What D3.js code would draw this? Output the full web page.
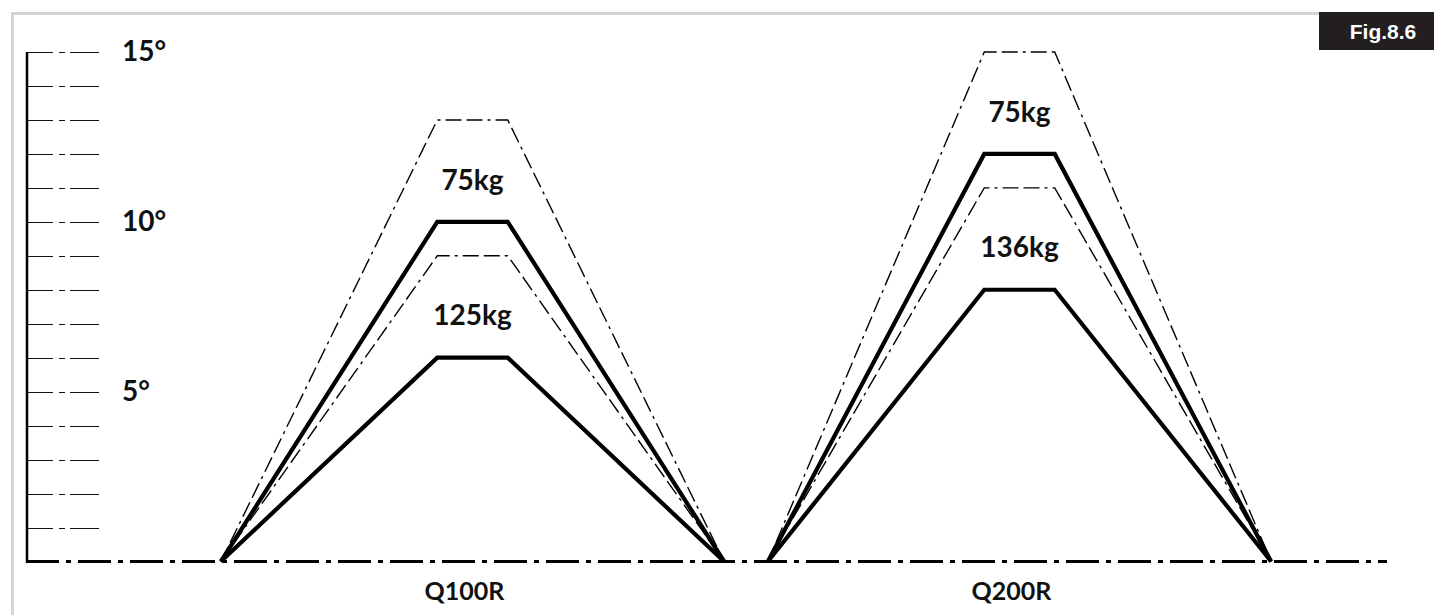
<!DOCTYPE html>
<html>
<head>
<meta charset="utf-8">
<script src="https://cdn.jsdelivr.net/npm/d3@7"></script>
<style>
  body { margin: 0; background: #fff; }
  svg { display: block; }
  .lbl { font-family: Lato, "Open Sans", sans-serif; font-weight: 700; fill: #111; }
</style>
</head>
<body>
<div class="tilt-chart"></div>
<script>
// data (degrees)
var categories = ["Q100R", "Q200R"];
var lightLoad = ["75kg", "75kg"];
var heavyLoad = ["125kg", "136kg"];
var lightMax = [13, 15];     // dashed, outer
var lightRated = [10, 12];   // thick
var heavyMax = [9, 11];      // dashed
var heavyRated = [6, 8];     // thick
var degreeLabels = [5, 10, 15];
var figLabel = "Fig.8.6";

var width = 1434, height = 615;

var svg = d3.select(".tilt-chart")
  .append("svg")
  .attr("width", width)
  .attr("height", height);

var y = d3.scaleLinear().domain([0, 15]).range([561.5, 52]);

var x = d3.scaleBand()
  .domain(categories)
  .range([199, 1293])
  .paddingInner(0.08)
  .paddingOuter(0.04);

var axisX = 27;

// grey frame (left + top)
svg.append("line")
  .attr("x1", 12.5).attr("x2", 12.5).attr("y1", 12).attr("y2", height)
  .attr("stroke", "#d4d4d4").attr("stroke-width", 3);
svg.append("line")
  .attr("x1", 11).attr("x2", 1319).attr("y1", 13.5).attr("y2", 13.5)
  .attr("stroke", "#d4d4d4").attr("stroke-width", 3);

// figure tag
svg.append("rect")
  .attr("x", 1319).attr("y", 12).attr("width", width - 1319).attr("height", 38)
  .attr("fill", "#231f20");
svg.append("text")
  .attr("x", 1383).attr("y", 39)
  .attr("text-anchor", "middle")
  .style("font-family", "'Liberation Sans', Arial, sans-serif")
  .style("font-weight", 700)
  .style("font-size", "21px")
  .attr("fill", "#fff")
  .text(figLabel);

// tick lines, one per degree
svg.append("g").selectAll("line")
  .data(y.ticks(15).filter(function(d) { return d > 0; }))
  .enter().append("line")
    .attr("x1", axisX).attr("x2", 99)
    .attr("y1", function(d) { return Math.round(y(d)) + 0.5; })
    .attr("y2", function(d) { return Math.round(y(d)) + 0.5; })
    .attr("stroke", "#111")
    .attr("stroke-width", 1.2)
    .attr("stroke-dasharray", "26,6,6,5,60");

svg.append("g").selectAll("text")
  .data(degreeLabels)
  .enter().append("text")
    .attr("class", "lbl")
    .attr("x", 122)
    .attr("y", function(d) { return y(d) - 1; })
    .attr("dy", "0.36em")
    .style("font-size", "28px")
    .text(function(d) { return d + "°"; });

// vertical axis
svg.append("line")
  .attr("x1", axisX).attr("x2", axisX)
  .attr("y1", y(15)).attr("y2", y(0) + 1)
  .attr("stroke", "#000").attr("stroke-width", 2.5);

// trapezoids
var line = d3.line();
function trap(i, v) {
  var x0 = x(categories[i]), bw = x.bandwidth();
  var c = x0 + bw / 2, half = bw * 0.07;
  return line([[x0, y(0)], [c - half, y(v)], [c + half, y(v)], [x0 + bw, y(0)]]);
}

var shapes = [];
categories.forEach(function(c, i) {
  shapes.push({ i: i, v: lightMax[i], thick: false });
  shapes.push({ i: i, v: lightRated[i], thick: true });
  shapes.push({ i: i, v: heavyMax[i], thick: false });
  shapes.push({ i: i, v: heavyRated[i], thick: true });
});

svg.append("g").selectAll("path")
  .data(shapes)
  .enter().append("path")
    .attr("d", function(d) { return trap(d.i, d.v); })
    .attr("fill", "none")
    .attr("stroke", "#000")
    .attr("stroke-linejoin", "miter")
    .attr("stroke-width", function(d) { return d.thick ? 4.2 : 1.4; })
    .attr("stroke-dasharray", function(d) { return d.thick ? null : "16,5,16,5,3,5"; });

// load labels
var loadLabels = [];
categories.forEach(function(c, i) {
  loadLabels.push({ i: i, v: lightRated[i], t: lightLoad[i] });
  loadLabels.push({ i: i, v: heavyRated[i], t: heavyLoad[i] });
});

svg.append("g").selectAll("text")
  .data(loadLabels)
  .enter().append("text")
    .attr("class", "lbl")
    .attr("x", function(d) { return x(categories[d.i]) + x.bandwidth() / 2; })
    .attr("y", function(d) { return y(d.v + 0.95); })
    .attr("text-anchor", "middle")
    .style("font-size", "28px")
    .text(function(d) { return d.t; });

// baseline
svg.append("line")
  .attr("x1", axisX - 1).attr("x2", 1387)
  .attr("y1", y(0)).attr("y2", y(0))
  .attr("stroke", "#000")
  .attr("stroke-width", 3.2)
  .attr("stroke-dasharray", "33,7,5,7");

// category labels
svg.append("g").selectAll("text")
  .data(categories)
  .enter().append("text")
    .attr("class", "lbl")
    .attr("x", function(d) { return x(d) + x.bandwidth() / 2 - 8; })
    .attr("y", 600)
    .attr("text-anchor", "middle")
    .style("font-size", "25px")
    .text(function(d) { return d; });
</script>
</body>
</html>
